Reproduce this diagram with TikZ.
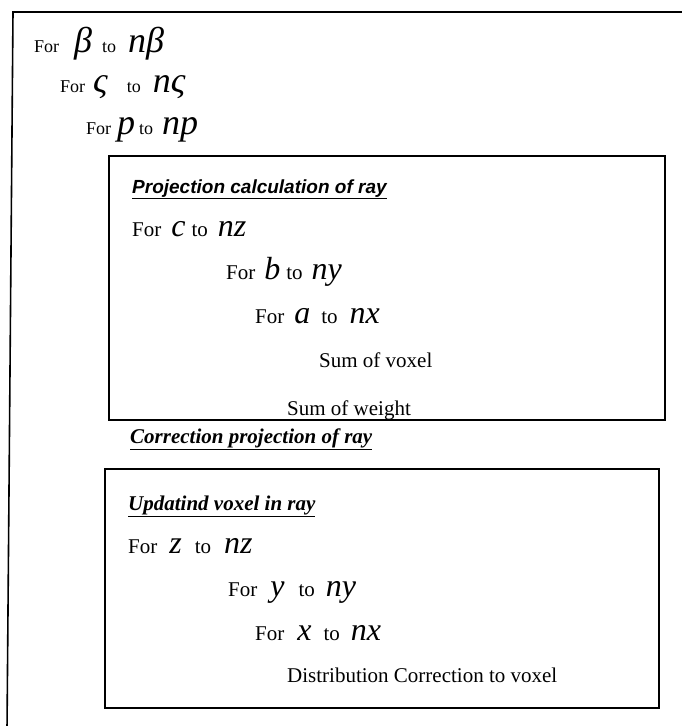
\documentclass[tikz,border=0pt]{standalone}
\usepackage{fontspec}
\setmainfont{Liberation Serif}
\setsansfont{Liberation Sans}
\usetikzlibrary{positioning}
\newcommand{\lv}[1]{{\fontsize{32}{34}\selectfont\itshape #1}}
\newcommand{\bigv}[1]{{\fontsize{36}{38}\selectfont\itshape #1}}
% For <v> to <nv>, with the gaps of the scan
\newcommand{\forline}[5]{For\hspace{#3pt}\lv{#1}\hspace{#4pt}to\hspace{#5pt}\lv{#2}}
\newcommand{\forouter}[5]{For\hspace{#3pt}\bigv{#1}\hspace{#4pt}to\hspace{#5pt}\bigv{#2}}
\tikzset{
  frame/.style={draw, line width=1.6pt},
  toploop/.style={anchor=base west, inner sep=0pt, font=\fontsize{18}{21}\selectfont},
  loopline/.style={anchor=base west, inner sep=0pt, font=\fontsize{21}{24}\selectfont},
  bodyline/.style={anchor=base west, inner sep=0pt, font=\fontsize{21}{24}\selectfont},
  headsf/.style={anchor=base west, inner sep=0pt, font=\fontsize{19}{22}\selectfont\sffamily\bfseries\itshape},
  headrm/.style={anchor=base west, inner sep=0pt, font=\fontsize{21}{24}\selectfont\bfseries\itshape}
}

\begin{document}
\begin{tikzpicture}[x=1pt,y=-1pt]
  \useasboundingbox (0,0) rectangle (682,726);
  \draw[frame] (690,12) -- (13,12) -- (7,730);

  % outer loops
  \node[toploop] (forbeta) at (34,52) {\forouter{β}{nβ}{15}{10}{12}};
  \node[toploop] (forsigma) at (60,92) {\forouter{ς}{nς}{8}{19}{12}};
  \node[toploop] (forp) at (86,134) {\forouter{p}{np}{6}{4}{9}};

  % projection block
  \draw[frame] (109,156) rectangle (665,420);
  \node[headsf] (projhead) at (132,193) {\underline{Projection calculation of ray}};
  \node[loopline] (forc) at (132,236) {\forline{c}{nz}{10}{6}{10}};
  \node[loopline] (forb) at (226,279) {\forline{b}{ny}{9}{6}{9}};
  \node[loopline] (fora) at (255,323) {\forline{a}{nx}{10}{11}{12}};
  \node[bodyline] (sumvox) at (319,367) {Sum of voxel};
  \begin{scope}
    \clip (109,156) rectangle (665,418);
    \node[bodyline] (sumwt) at (287,415) {Sum of weight};
  \end{scope}

  \node[headrm] (corrhead) at (130,443) {\underline{Correction projection of ray}};

  % update block
  \draw[frame] (105,469) rectangle (659,708);
  \node[headrm] (updhead) at (128,510) {\underline{Updatind voxel in ray}};
  \node[loopline] (forz) at (128,553) {\forline{z}{nz}{12}{13}{13}};
  \node[loopline] (fory) at (228,596) {\forline{y}{ny}{13}{14}{11}};
  \node[loopline] (forx) at (255,640) {\forline{x}{nx}{13}{12}{11}};
  \node[bodyline] (distcorr) at (287,682) {Distribution Correction to voxel};
\end{tikzpicture}
\end{document}
